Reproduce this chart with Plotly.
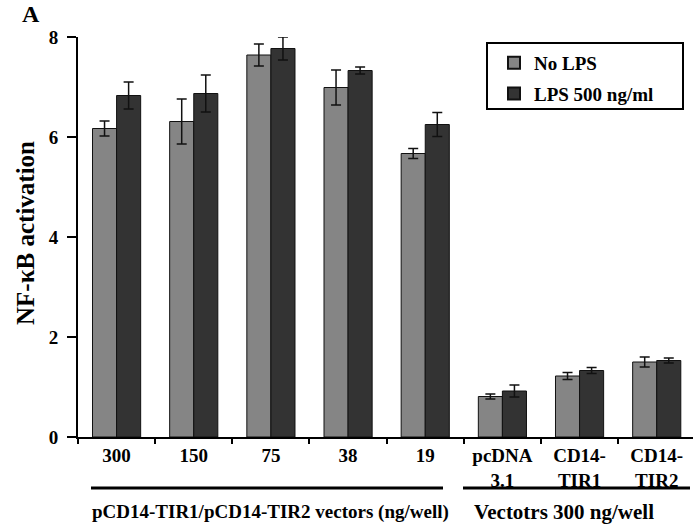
import plotly.graph_objects as go

# Category labels (ng/well for the first five, vector names for the last three)
categories = ["300", "150", "75", "38", "19", "pcDNA<br>3.1", "CD14-<br>TIR1", "CD14-<br>TIR2"]
cat_keys = ["c300", "c150", "c75", "c38", "c19", "pcDNA", "TIR1", "TIR2"]

# NF-kB activation, mean and error
no_lps = [6.17, 6.31, 7.64, 6.99, 5.67, 0.81, 1.22, 1.50]
no_lps_err = [0.15, 0.45, 0.22, 0.35, 0.10, 0.05, 0.07, 0.10]
lps = [6.83, 6.87, 7.77, 7.33, 6.25, 0.92, 1.33, 1.53]
lps_err = [0.27, 0.37, 0.23, 0.07, 0.24, 0.12, 0.06, 0.05]

series_names = ["No LPS", "LPS 500 ng/ml"]
series_colors = ["#858585", "#333333"]

FONT = "Liberation Serif"
ML, MT, MB, MR = 78, 37, 87, 0
W, H = 693, 524
PW = W - ML - MR
PH = H - MT - MB


def px_x(p):
    return (p - ML) / PW


def px_y(p):
    return (H - MB - p) / PH


fig = go.Figure()
for name, vals, errs, col in [
    (series_names[0], no_lps, no_lps_err, series_colors[0]),
    (series_names[1], lps, lps_err, series_colors[1]),
]:
    fig.add_trace(go.Bar(
        x=cat_keys, y=vals, name=name, legendgroup=name,
        marker=dict(color=col, line=dict(color="#111111", width=1)),
        error_y=dict(type="data", array=errs, visible=True,
                     color="#111111", thickness=1.5, width=5),
    ))

# group underlines beneath the category labels
for x0, x1 in [(91, 443), (463, 690)]:
    fig.add_shape(type="line", xref="paper", yref="paper",
                  x0=px_x(x0), x1=px_x(x1), y0=px_y(488), y1=px_y(488),
                  line=dict(color="black", width=3))

# legend frame
fig.add_shape(type="rect", xref="paper", yref="paper",
              x0=px_x(487), x1=px_x(683), y0=px_y(109), y1=px_y(43),
              line=dict(color="black", width=2), fillcolor="rgba(0,0,0,0)")

bold = dict(family=FONT, size=19, color="black", weight="bold")

fig.add_annotation(text="pCD14-TIR1/pCD14-TIR2 vectors (ng/well)",
                   xref="paper", yref="paper", x=px_x(270), y=px_y(512),
                   showarrow=False, font=bold, xanchor="center", yanchor="middle")
fig.add_annotation(text="Vectotrs 300 ng/well",
                   xref="paper", yref="paper", x=px_x(564), y=px_y(512),
                   showarrow=False, font=dict(family=FONT, size=21, color="black", weight="bold"),
                   xanchor="center", yanchor="middle")
fig.add_annotation(text="NF-\u03baB activation", textangle=-90,
                   xref="paper", yref="paper", x=px_x(25), y=px_y(233),
                   showarrow=False, font=dict(family=FONT, size=25, color="black", weight="bold"),
                   xanchor="center", yanchor="middle")
fig.add_annotation(text="A", xref="paper", yref="paper", x=px_x(31), y=px_y(14),
                   showarrow=False, font=dict(family=FONT, size=24, color="black", weight="bold"),
                   xanchor="center", yanchor="middle")

fig.update_layout(
    width=W, height=H,
    margin=dict(l=ML, r=MR, t=MT, b=MB, pad=0),
    paper_bgcolor="white", plot_bgcolor="white",
    barmode="group", bargap=0.376, bargroupgap=0,
    showlegend=True,
    legend=dict(x=px_x(494), y=px_y(44), xanchor="left", yanchor="top",
                font=bold, bgcolor="rgba(0,0,0,0)", borderwidth=0,
                traceorder="grouped", tracegroupgap=3, itemsizing="constant"),
    xaxis=dict(type="category", tickmode="array", tickvals=cat_keys, ticktext=categories,
               tickson="boundaries", ticks="outside", ticklen=5, tickwidth=2, tickcolor="black",
               showline=True, linecolor="black", linewidth=2, showgrid=False, zeroline=False,
               range=[-0.5, 7.47], tickfont=bold, fixedrange=True),
    yaxis=dict(range=[0, 8], tickvals=[0, 2, 4, 6, 8], ticks="outside", ticklen=9, tickwidth=2,
               tickcolor="black", showline=True, linecolor="black", linewidth=2,
               showgrid=False, zeroline=False, tickfont=bold, ticklabelstandoff=5),
)

fig.write_html("out.html")
